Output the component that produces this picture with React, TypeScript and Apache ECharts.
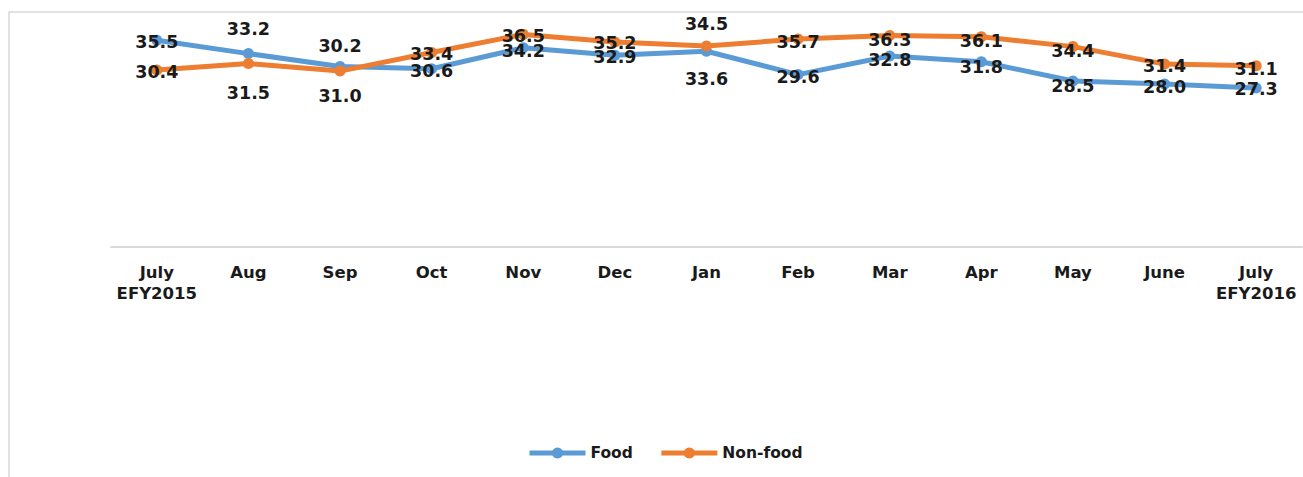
import React, { useEffect, useRef } from "react";
import * as echarts from "echarts";

const categories = [
  "July\nEFY2015", "Aug", "Sep", "Oct", "Nov", "Dec", "Jan",
  "Feb", "Mar", "Apr", "May", "June", "July\nEFY2016",
];
const foodValues = [35.5, 33.2, 31.0, 30.6, 34.2, 32.9, 33.6, 29.6, 32.8, 31.8, 28.5, 28.0, 27.3];
const nonFoodValues = [30.4, 31.5, 30.2, 33.4, 36.5, 35.2, 34.5, 35.7, 36.3, 36.1, 34.4, 31.4, 31.1];

// vertical label offsets (style only)
const foodLabelDy = [2, -25, 30, 2, 3, 2, 28, 2, 4, 5, 5, 3, 1];
const nonFoodLabelDy = [2, 29, -25, 2, 2, 1, -22, 3, 4, 4, 4, 2, 3];

const FONT = "DejaVu Sans";

export default function App() {
  const ref = useRef<HTMLDivElement>(null);
  useEffect(() => {
    if (!ref.current) return;
    const chart = echarts.init(ref.current, undefined, { renderer: "svg" });
    const mk = (vals: number[], dys: number[]) =>
      vals.map((v, i) => ({ value: v, label: { offset: [0, dys[i]] } }));
    const labelStyle = {
      show: true,
      position: "inside",
      color: "#1a1a1a",
      fontFamily: FONT,
      fontWeight: "bold",
      fontSize: 17.5,
      formatter: (p: any) => Number(p.value).toFixed(1),
    };
    chart.setOption({
      animation: false,
      backgroundColor: "#ffffff",
      graphic: [
        {
          type: "rect",
          shape: { x: 9, y: 12, width: 1330, height: 490 },
          style: { fill: "none", stroke: "#d9d9d9", lineWidth: 1.5 },
          silent: true,
          z: -10,
        },
      ],
      grid: { left: 111, right: 1, top: 14, bottom: 230, containLabel: false },
      xAxis: {
        type: "category",
        data: categories,
        boundaryGap: true,
        axisLine: { show: true, lineStyle: { color: "#d9d9d9", width: 2 } },
        axisTick: { show: false },
        axisLabel: {
          color: "#1a1a1a",
          fontFamily: FONT,
          fontWeight: "bold",
          fontSize: 16.5,
          lineHeight: 21,
          margin: 15,
          interval: 0,
        },
      },
      yAxis: {
        type: "value",
        min: 0,
        max: 40,
        interval: 10,
        show: false,
        splitLine: { show: false },
      },
      legend: {
        left: 522,
        top: 440,
        itemWidth: 56,
        itemHeight: 14,
        itemGap: 26,
        lineStyle: { width: 5 },
        textStyle: { color: "#1a1a1a", fontFamily: FONT, fontWeight: "bold", fontSize: 15.5 },
        data: ["Food", "Non-food"],
      },
      series: [
        {
          name: "Food",
          type: "line",
          data: mk(foodValues, foodLabelDy),
          symbol: "circle",
          symbolSize: 11,
          lineStyle: { color: "#5B9BD5", width: 5 },
          itemStyle: { color: "#5B9BD5" },
          label: labelStyle,
          z: 2,
        },
        {
          name: "Non-food",
          type: "line",
          data: mk(nonFoodValues, nonFoodLabelDy),
          symbol: "circle",
          symbolSize: 11,
          lineStyle: { color: "#ED7D31", width: 5 },
          itemStyle: { color: "#ED7D31" },
          label: labelStyle,
          z: 3,
        },
      ],
    });
    return () => chart.dispose();
  }, []);
  return (
    <div
      ref={ref}
      style={{ position: "absolute", left: 0, top: 0, width: 1303, height: 477 }}
    />
  );
}
